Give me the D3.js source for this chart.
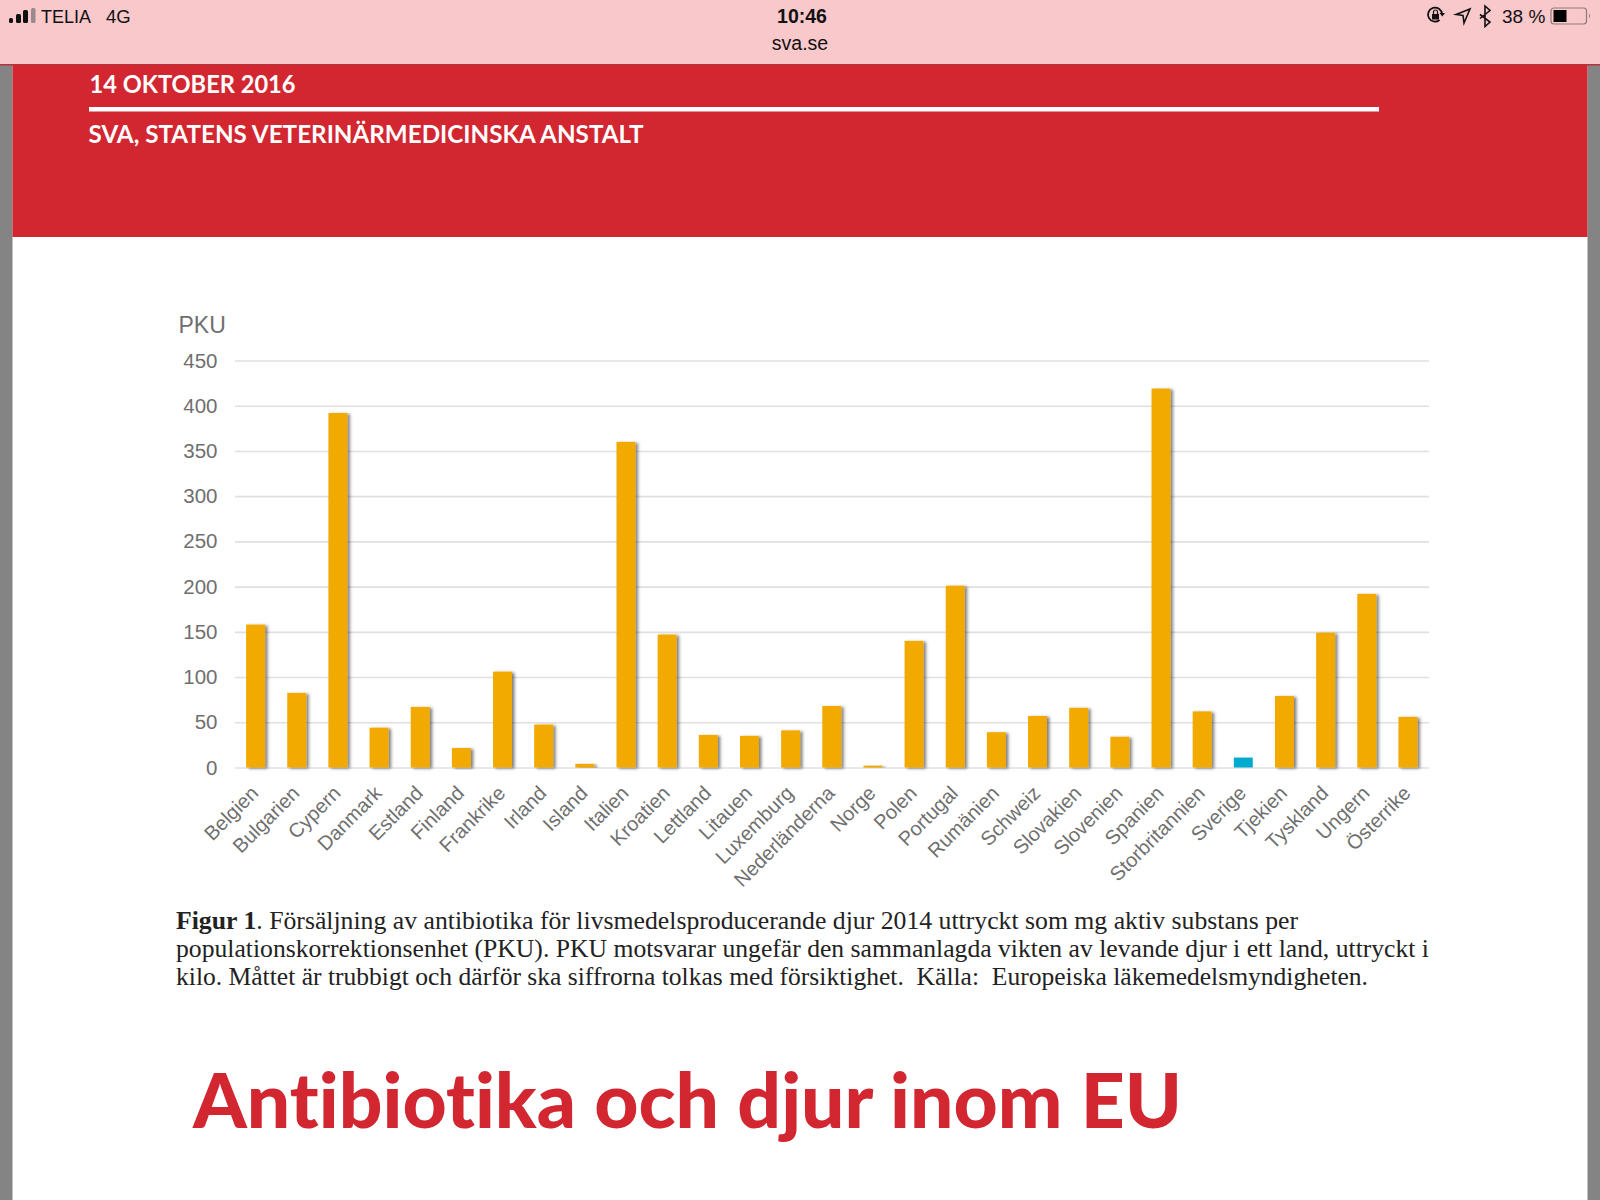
<!DOCTYPE html>
<html><head><meta charset="utf-8">
<script src="https://cdnjs.cloudflare.com/ajax/libs/d3/7.8.5/d3.min.js"></script>
<style>html,body{margin:0;padding:0;background:#fff}svg{display:block}text{font-variant-ligatures:none}</style></head>
<body><svg id="c" width="1600" height="1200"></svg>
<script>
const categories=["Belgien","Bulgarien","Cypern","Danmark","Estland","Finland","Frankrike","Irland","Island","Italien","Kroatien","Lettland","Litauen","Luxemburg","Nederländerna","Norge","Polen","Portugal","Rumänien","Schweiz","Slovakien","Slovenien","Spanien","Storbritannien","Sverige","Tjekien","Tyskland","Ungern","Österrike"];
const values=[158,82.5,392,44,67,21.5,106,47.5,4,360,147,36,35,41,68,2,140,201,39,57,66,34,419,62,11,79,149,192,56];
const yTicks=[0,50,100,150,200,250,300,350,400,450];
const highlighted=["Sverige"];
const captionLines=[
 [["Figur 1",true],[". Försäljning av antibiotika för livsmedelsproducerande djur 2014 uttryckt som mg aktiv substans per",false]],
 [["populationskorrektionsenhet (PKU). PKU motsvarar ungefär den sammanlagda vikten av levande djur i ett land, uttryckt i",false]],
 [["kilo. Måttet är trubbigt och därför ska siffrorna tolkas med försiktighet.  Källa:  Europeiska läkemedelsmyndigheten.",false]]];
const captionWidths=[1122,1253,1192];
const svg=d3.select("#c");
const defs=svg.append("defs");
const f=defs.append("filter").attr("id","sh").attr("x","-30%").attr("y","-5%").attr("width","180%").attr("height","115%");
f.append("feDropShadow").attr("dx",2.5).attr("dy",1).attr("stdDeviation",1.4).attr("flood-color","#000").attr("flood-opacity",0.5);

// page frame
svg.append("rect").attr("width",1600).attr("height",1200).attr("fill","#848484");
svg.append("rect").attr("x",12.5).attr("y",65).attr("width",1575).attr("height",1135).attr("fill","#fff");
svg.append("rect").attr("x",12.5).attr("y",65).attr("width",1575).attr("height",172).attr("fill","#d22630");
svg.append("rect").attr("width",1600).attr("height",65).attr("fill","#f9c8cb");
svg.append("rect").attr("y",64).attr("width",1600).attr("height",1.5).attr("fill","#b8333c");
const T=(x,y,s,size,fam,col,w,anc)=>svg.append("text").attr("x",x).attr("y",y).attr("font-size",size).attr("font-family",fam).attr("fill",col).attr("font-weight",w||400).attr("text-anchor",anc||"start").text(s);
// status bar
const ss="'Liberation Sans',sans-serif";
[[9,4,5],[16,5,9],[23,5,13]].forEach(([x,w,h])=>svg.append("rect").attr("x",x).attr("y",23-h).attr("width",w).attr("height",h).attr("rx",1.5).attr("fill","#111"));
svg.append("rect").attr("x",31).attr("y",8).attr("width",4.5).attr("height",15).attr("rx",1.5).attr("fill","#9b8a8c");
T(41,22.5,"TELIA",18,ss,"#111");
T(106,22.5,"4G",18.5,ss,"#111");
T(802,22.5,"10:46",19.5,ss,"#111",700,"middle");
T(800,50,"sva.se",19.5,ss,"#111",400,"middle");
T(1502,22.5,"38 %",19,ss,"#111");
// lock rotation, location, bluetooth, battery
svg.append("path").attr("d","M1442 14a7 7 0 1 0-2.5 6").attr("fill","none").attr("stroke","#111").attr("stroke-width",1.8);
svg.append("path").attr("d","M1445 13l-5.5 0 2.8 3.5z").attr("fill","#111");
svg.append("rect").attr("x",1432).attr("y",14).attr("width",7).attr("height",5.5).attr("fill","#111");
svg.append("path").attr("d","M1433.5 14v-2a2 2 0 0 1 4 0v2").attr("fill","none").attr("stroke","#111").attr("stroke-width",1.2);
svg.append("path").attr("d","M1456 14.5L1470 9L1464 23L1463 15.5Z").attr("fill","none").attr("stroke","#111").attr("stroke-width",1.6);
svg.append("path").attr("d","M1480 16L1490 23.5L1485 28V7.5L1490 12L1480 20").attr("transform","translate(0,-1.5)").attr("fill","none").attr("stroke","#111").attr("stroke-width",1.6);
svg.append("rect").attr("x",1551).attr("y",8).attr("width",35.5).attr("height",16).attr("rx",3).attr("fill","none").attr("stroke","#8d7a7c").attr("stroke-width",1.2);
svg.append("rect").attr("x",1553.5).attr("y",10).attr("width",13).attr("height",12).attr("fill","#000");
svg.append("path").attr("d","M1589 13.5q2 2.5 0 5z").attr("fill","#8d7a7c");
// header
const lato="Lato,sans-serif";
T(89.5,93,"14 OKTOBER 2016",24.5,lato,"#fff",700).attr("textLength",206).attr("lengthAdjust","spacingAndGlyphs");
svg.append("rect").attr("x",89).attr("y",107).attr("width",1290).attr("height",4.5).attr("fill","#fff");
T(88.5,142.5,"SVA, STATENS VETERINÄRMEDICINSKA ANSTALT",24.5,lato,"#fff",700).attr("textLength",555).attr("lengthAdjust","spacingAndGlyphs");
// chart
const x=d3.scaleBand().domain(categories).range([235,1428.5]).paddingInner(0.54).paddingOuter(0.27);
const y=d3.scaleLinear().domain([0,450]).range([767.5,360.5]);
const gy=svg.append("g").attr("transform","translate(235,0)").call(d3.axisLeft(y).tickValues(yTicks).tickSize(0).tickPadding(17.5));
gy.select(".domain").remove();
gy.selectAll("text").attr("font-size",20.5).attr("font-family",ss).attr("fill","#6f6f6f");
gy.selectAll(".tick line").attr("x1",0).attr("x2",1194).attr("stroke","#e0e0e0").attr("stroke-width",1.6);
svg.selectAll(".bar").data(categories).join("rect").attr("class","bar")
 .attr("x",d=>x(d)).attr("width",x.bandwidth())
 .attr("y",(d,i)=>y(values[i])).attr("height",(d,i)=>y(0)-y(values[i]))
 .attr("fill",d=>highlighted.includes(d)?"#00a9ce":"#f2a900")
 .attr("filter",d=>highlighted.includes(d)?null:"url(#sh)");
const gx=svg.append("g").attr("transform","translate(0,767.5)").call(d3.axisBottom(x).tickSize(0).tickPadding(0));
gx.select(".domain").remove();
gx.selectAll("text").attr("font-size",20).attr("font-family",ss).attr("fill","#6f6f6f")
  .attr("text-anchor","end").attr("dy",0).attr("y",0)
  .attr("transform","translate(4,27) rotate(-45)");
T(178.5,333,"PKU",23,ss,"#6f6f6f");
// caption
captionLines.forEach((ln,i)=>{
 const t=svg.append("text").attr("x",176).attr("y",928.5+i*28).attr("font-family","'Liberation Serif',serif").attr("font-size",25.5).attr("fill","#222").attr("xml:space","preserve")
   .attr("textLength",captionWidths[i]).attr("lengthAdjust","spacingAndGlyphs");
 ln.forEach(([s,b])=>t.append("tspan").attr("font-weight",b?700:400).text(s));
});
T(193,1128,"Antibiotika och djur inom EU",77,lato,"#d22630",900).attr("textLength",989).attr("lengthAdjust","spacingAndGlyphs");
</script></body></html>
